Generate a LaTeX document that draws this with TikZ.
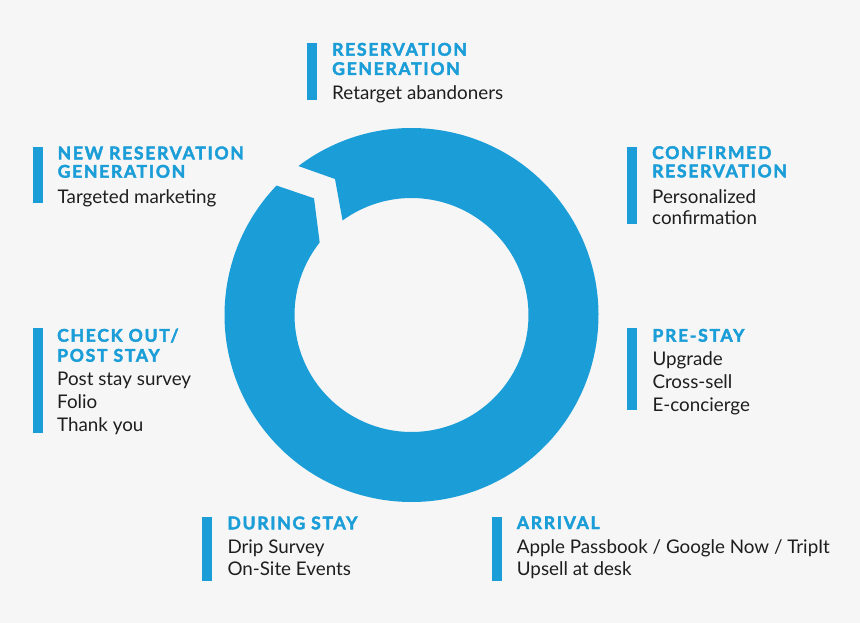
\documentclass[tikz,border=0pt]{standalone}
\usepackage{fontspec}
\setmainfont{Lato}
\newfontfamily\headfont{Lato}[LetterSpace=10,FakeBold=2.5]
\definecolor{ringblue}{HTML}{1B9ED8}
\definecolor{bodygray}{HTML}{1E1E1E}
\definecolor{bggray}{HTML}{F6F6F6}
\begin{document}
\begin{tikzpicture}[x=1pt,y=1pt,
  head/.style={anchor=base west, inner sep=0pt, font=\headfont\bfseries\fontsize{17.5}{19}\selectfont, text=ringblue},
  body/.style={anchor=base west, inner sep=0pt, font=\fontsize{18.8}{22}\selectfont, text=bodygray},
  barbox/.style={fill=ringblue}]
\fill[bggray] (0,0) rectangle (860,-623);
\useasboundingbox (0,0) rectangle (860,-623);
% ring
\begin{scope}[shift={(411.5,-315)}]
\fill[ringblue] (127.2:187) arc[start angle=127.2, end angle=-223.8, radius=187]
  -- (-97.5,116.7) -- (141.7:117) arc[start angle=-218.3, end angle=126.1, radius=117]
  -- (-76.5,136) -- cycle;
\end{scope}
% Reservation generation
\fill[barbox] (307.3,-43.3) rectangle (317.3,-100);
\node[head] (rg1) at (332,-55.7) {RESERVATION};
\node[head] (rg2) at (332,-75) {GENERATION};
\node[body] (rg3) at (332,-100) {Retarget abandoners};
% New reservation generation
\fill[barbox] (32.5,-146.7) rectangle (42.5,-203.3);
\node[head] (nr1) at (57.5,-159.3) {NEW RESERVATION};
\node[head] (nr2) at (57.5,-177.7) {GENERATION};
\node[body] (nr3) at (57.5,-203.3) {Targeted marketing};
% Confirmed reservation
\fill[barbox] (627.3,-146.7) rectangle (637.3,-224);
\node[head] (cr1) at (652,-159) {CONFIRMED};
\node[head] (cr2) at (652,-177.3) {RESERVATION};
\node[body] (cr3) at (652,-203.5) {Personalized};
\node[body] (cr4) at (652,-225) {confirmation};
% Check out
\fill[barbox] (32.5,-328.3) rectangle (42.5,-432.7);
\node[head] (co1) at (57,-341.7) {CHECK OUT/};
\node[head] (co2) at (57,-361.7) {POST STAY};
\node[body] (co3) at (57,-385) {Post stay survey};
\node[body] (co4) at (57,-408) {Folio};
\node[body] (co5) at (57,-431) {Thank you};
% Pre-stay
\fill[barbox] (627.3,-328.3) rectangle (637.3,-410);
\node[head] (ps1) at (652.3,-341.7) {PRE-STAY};
\node[body] (ps2) at (652.3,-365) {Upgrade};
\node[body] (ps3) at (652.3,-388) {Cross-sell};
\node[body] (ps4) at (652.3,-411) {E-concierge};
% During stay
\fill[barbox] (202.3,-516.5) rectangle (212.3,-580.5);
\node[head] (ds1) at (227.3,-529.3) {DURING STAY};
\node[body] (ds2) at (227.3,-553.2) {Drip Survey};
\node[body] (ds3) at (227.3,-575.5) {On-Site Events};
% Arrival
\fill[barbox] (492.3,-516.7) rectangle (502.3,-580.5);
\node[head] (ar1) at (516.7,-529) {ARRIVAL};
\node[body] (ar2) at (516.7,-553.5) {Apple Passbook / Google Now / TripIt};
\node[body] (ar3) at (516.7,-575.5) {Upsell at desk};
\end{tikzpicture}
\end{document}
